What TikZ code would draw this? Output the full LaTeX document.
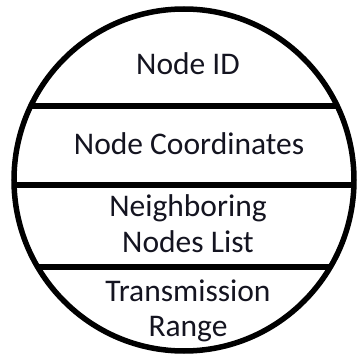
\documentclass[tikz,border=0pt]{standalone}
\usepackage{fontspec}
\setmainfont{Carlito}
\definecolor{inkc}{HTML}{141420}
\begin{document}
\begin{tikzpicture}[x=1pt,y=1pt,
  rim/.style={draw=black,line width=5.5pt},
  lbl/.style={anchor=base,inner sep=0pt,text=inkc,font=\fontsize{31.5}{36}\selectfont}]
\useasboundingbox (0,0) rectangle (357,362);
\begin{scope}
  \clip (184,182) ellipse [x radius=170, y radius=171];
  \draw[rim] (0,256) -- (357,256);
  \draw[rim] (0,177) -- (357,177);
  \draw[rim] (0,95) -- (357,95);
\end{scope}
\draw[rim] (184,182) ellipse [x radius=170, y radius=171];
\node[lbl] (id) at (188,287) {Node ID};
\node[lbl] (co) at (189,207) {Node Coordinates};
\node[lbl] (nb1) at (188,145) {Neighboring};
\node[lbl] (nb2) at (188,109) {Nodes List};
\node[lbl] (tr1) at (188,60) {Transmission};
\node[lbl] (tr2) at (188,25) {Range};
\end{tikzpicture}
\end{document}
